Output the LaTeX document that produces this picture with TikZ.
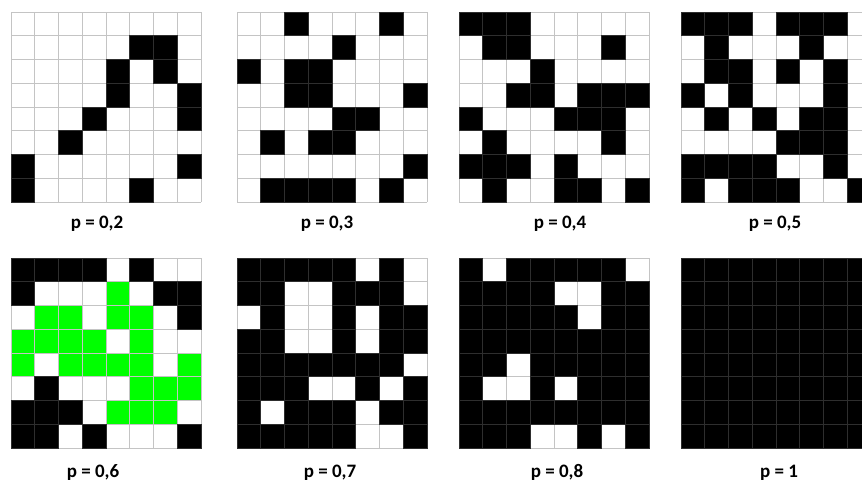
\documentclass[tikz,border=0pt]{standalone}
\usepackage{fontspec}
\setmainfont{Carlito}
\definecolor{grn}{HTML}{00FF00}
\definecolor{lg}{HTML}{C4C4C4}
\definecolor{dg}{HTML}{2E2E2E}
\newcommand\pgrid[3]{%
 \begin{scope}[shift={(#1,#2)}]
  \fill[white] (0,0) rectangle (190,190);
  \foreach \row [count=\i from 0] in {#3} {
    \foreach \c [count=\j from 0] in \row {
      \ifnum\c=2 \fill[grn] (\j*23.75,\i*23.75) rectangle ++(23.75,23.75);\fi
    }
  }
  \foreach \k in {0,...,8} {
    \draw[lg, line width=0.7pt] (\k*23.75,0) -- (\k*23.75,190);
    \draw[lg, line width=0.7pt] (0,\k*23.75) -- (190,\k*23.75);
  }
  \foreach \row [count=\i from 0] in {#3} {
    \foreach \c [count=\j from 0] in \row {
      \ifnum\c=1 \filldraw[fill=black, draw=dg, line width=0.6pt] (\j*23.75,\i*23.75) rectangle ++(23.75,23.75);\fi
    }
  }
 \end{scope}}
\tikzset{plabel/.style={font=\bfseries\fontsize{19}{22}\selectfont, anchor=base, inner sep=0pt}}
\begin{document}
\begin{tikzpicture}[x=1pt,y=-1pt]
\useasboundingbox (0,0) rectangle (862,482);
\clip (0,0) rectangle (862,482);
\fill[white] (0,0) rectangle (862,482);
\pgrid{11}{12}{{0,0,0,0,0,0,0,0},{0,0,0,0,0,1,1,0},{0,0,0,0,1,0,1,0},{0,0,0,0,1,0,0,1},{0,0,0,1,0,0,0,1},{0,0,1,0,0,0,0,0},{1,0,0,0,0,0,0,1},{1,0,0,0,0,1,0,0}}
\pgrid{237}{12}{{0,0,1,0,0,0,1,0},{0,0,0,0,1,0,0,0},{1,0,1,1,0,0,0,0},{0,0,1,1,0,0,0,1},{0,0,0,0,1,1,0,0},{0,1,0,1,1,0,0,0},{0,0,0,0,0,0,0,1},{0,1,1,1,1,0,1,0}}
\pgrid{459}{12}{{1,1,1,0,0,0,0,0},{0,1,1,0,0,0,1,0},{0,0,0,1,0,0,0,0},{0,0,1,1,0,1,1,1},{1,0,0,0,1,1,1,0},{0,1,0,0,0,0,1,0},{1,1,1,0,1,0,0,0},{0,1,0,0,1,1,0,1}}
\pgrid{681}{12}{{1,1,1,0,1,1,1,0},{0,1,0,0,0,1,0,0},{0,1,1,0,1,0,1,0},{1,0,1,0,0,0,1,0},{0,1,0,1,0,1,1,0},{0,0,0,0,1,1,1,0},{1,1,1,1,0,0,1,0},{1,0,1,1,1,0,0,1}}
\pgrid{11}{258}{{1,1,1,1,0,1,0,0},{1,0,0,0,2,0,1,1},{0,2,2,0,2,2,0,1},{2,2,2,2,0,2,0,0},{2,0,2,2,2,2,0,2},{0,1,0,0,0,2,2,2},{1,1,1,0,2,2,2,0},{1,1,0,1,0,0,0,1}}
\pgrid{237}{258}{{1,1,1,1,1,0,1,0},{1,1,0,0,1,1,1,0},{0,1,0,0,1,0,1,1},{1,1,0,0,1,0,1,1},{1,1,1,1,1,1,1,0},{1,1,1,0,0,1,0,1},{1,0,1,1,1,0,1,1},{1,1,1,1,1,0,0,1}}
\pgrid{459}{258}{{1,0,1,1,1,1,1,0},{1,1,1,1,0,0,1,1},{1,1,1,1,1,0,1,1},{1,1,1,1,1,1,1,1},{1,1,0,1,1,1,1,1},{1,0,0,1,0,1,1,1},{1,1,1,1,1,1,1,1},{1,1,1,0,0,1,0,1}}
\pgrid{681}{258}{{1,1,1,1,1,1,1,1},{1,1,1,1,1,1,1,1},{1,1,1,1,1,1,1,1},{1,1,1,1,1,1,1,1},{1,1,1,1,1,1,1,1},{1,1,1,1,1,1,1,1},{1,1,1,1,1,1,1,1},{1,1,1,1,1,1,1,1}}
\node[plabel] (l1) at (97,228) {p = 0,2};
\node[plabel] (l2) at (327,228) {p = 0,3};
\node[plabel] (l3) at (560,228) {p = 0,4};
\node[plabel] (l4) at (775,228) {p = 0,5};
\node[plabel] (l5) at (93,477) {p = 0,6};
\node[plabel] (l6) at (330,477) {p = 0,7};
\node[plabel] (l7) at (557,477) {p = 0,8};
\node[plabel] (l8) at (779,477) {p = 1};
\end{tikzpicture}
\end{document}
